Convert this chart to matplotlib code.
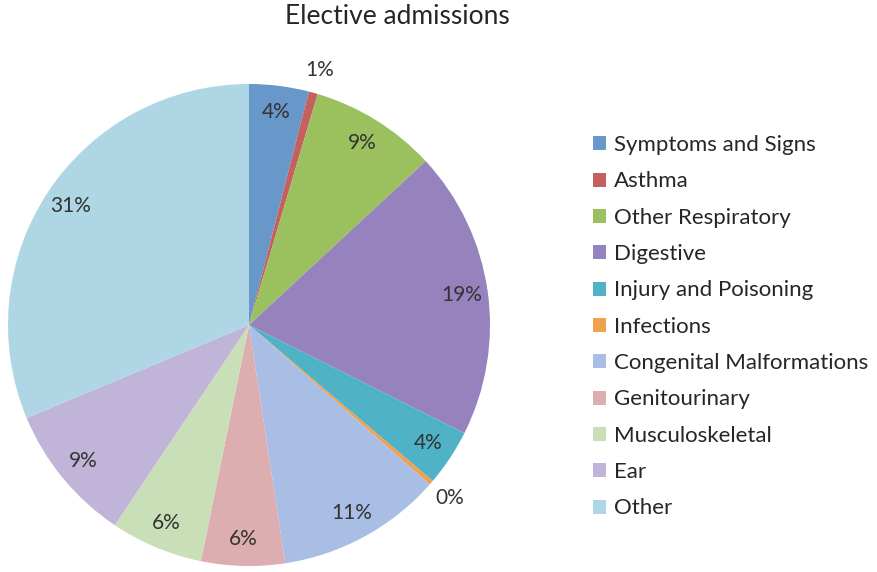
import numpy as np
import matplotlib
matplotlib.use("Agg")
from matplotlib import pyplot as plt

plt.rcParams['font.family'] = ['Lato', 'DejaVu Sans']

categories = ["Symptoms and Signs", "Asthma", "Other Respiratory", "Digestive",
              "Injury and Poisoning", "Infections", "Congenital Malformations",
              "Genitourinary", "Musculoskeletal", "Ear", "Other"]
shares = [4.0, 0.6, 8.5, 19.3, 3.8, 0.3, 11.1, 5.6, 6.2, 9.3, 31.3]
pct_labels = ["4%", "1%", "9%", "19%", "4%", "0%", "11%", "6%", "6%", "9%", "31%"]
colors = ["#6897c9", "#c4605e", "#9bc15f", "#9682bd", "#4fb2c6", "#f0a04e",
          "#a9bee5", "#dcaeb0", "#c9dfb8", "#c0b5d8", "#afd6e4"]

W, H = 878, 572
fig = plt.figure(figsize=(W / 100, H / 100), dpi=100)

# pie centre ~ (249, 325) px, radius ~241 px
cx, cy, r = 249, 325, 241
ax = fig.add_axes([(cx - r) / W, (H - cy - r) / H, 2 * r / W, 2 * r / H])

wedges, _ = ax.pie(shares, colors=colors, startangle=90, counterclock=False,
                   radius=1, wedgeprops=dict(linewidth=0))
ax.set_xlim(-1, 1)
ax.set_ylim(-1, 1)
ax.set_aspect('equal')
ax.axis('off')

# percentage labels, small slices go outside
for w, lab, s in zip(wedges, pct_labels, shares):
    mid = np.deg2rad((w.theta1 + w.theta2) / 2)
    d = 1.1 if s < 1 else 0.89
    ax.text(d * np.cos(mid), d * np.sin(mid), lab, ha='center', va='center',
            fontsize=15, color='#333333')

fig.text(397 / W, 1 - 16 / H, "Elective admissions", ha='center', va='center',
         fontsize=19, color='#262626')

leg = fig.legend(wedges, categories, loc='upper left',
                 bbox_to_anchor=(582 / W, 1 - 124 / H), frameon=False,
                 fontsize=16, handlelength=0.6, handleheight=0.6,
                 handletextpad=0.35, labelspacing=0.735, borderpad=0)
for t in leg.get_texts():
    t.set_color('#262626')

fig.savefig("out.png", dpi=100)
